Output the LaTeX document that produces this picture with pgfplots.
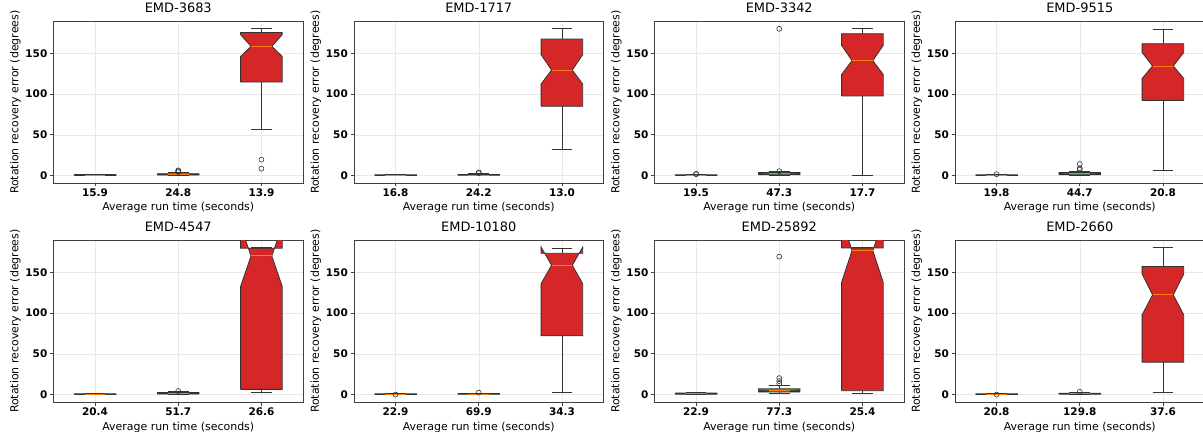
\documentclass[border=0pt]{standalone}
\usepackage{fontspec}
\setmainfont{DejaVu Sans}
\usepackage{pgfplots}
\pgfplotsset{compat=1.18}
\definecolor{tred}{HTML}{D62728}
\definecolor{tgreen}{HTML}{2CA02C}
\definecolor{tblue}{HTML}{1F77B4}
\definecolor{torange}{HTML}{FF7F0E}
\pgfplotsset{
  whisk/.style={black!80, line width=0.8pt, mark=none},
  boxs/.style={draw=black!80, line width=0.8pt, mark=none},
  med/.style={torange, line width=1pt, mark=none},
  fl/.style={only marks, mark=o, mark size=2.5bp, mark options={black!80, line width=0.6pt}},
  myax/.style={
    scale only axis, width=249.5bp, height=161.5bp,
    xmin=0.5, xmax=3.5, ymin=-9, ymax=189,
    xtick={1,2,3}, ytick={0,50,100,150},
    xtick pos=bottom, ytick pos=left,
    grid=major, grid style={line width=0.5pt, draw=black!9},
    axis line style={black!75, line width=0.8pt},
    tick align=outside, major tick length=3.5bp,
    tick style={black!75, line width=0.8pt},
    /pgf/number format/assume math mode=true,
    yticklabel style={font=\bfseries\fontsize{10.5}{12}\selectfont, inner sep=0pt, xshift=-2.5bp},
    xticklabel style={font=\bfseries\fontsize{10.5}{12}\selectfont, inner sep=0pt, yshift=-2.5bp},
    title style={font=\fontsize{13}{15}\selectfont, at={(axis description cs:0.5,1)}, anchor=south, inner sep=0pt, yshift=2.7bp},
    xlabel={Average run time (seconds)},
    ylabel={Rotation recovery error (degrees)},
    every axis x label/.style={at={(axis description cs:0.5,0)}, anchor=base, inner sep=0pt, yshift=-28bp, font=\fontsize{11}{13}\selectfont},
    every axis y label/.style={at={(axis description cs:-0.153,0.5)}, anchor=center, rotate=90, inner sep=0pt, font=\fontsize{11}{13}\selectfont},
    anchor=south west,
  }
}
% pos, lower whisker, q1, notch low, median, notch high, q3, upper whisker, colour
\newcommand{\nbox}[9]{%
  \pgfmathsetmacro\xa{#1-0.25}%
  \pgfmathsetmacro\xb{#1+0.25}%
  \pgfmathsetmacro\xc{#1-0.125}%
  \pgfmathsetmacro\xd{#1+0.125}%
  \edef\tmp{%
    \noexpand\addplot[boxs, fill=#9] coordinates {(\xa,#3) (\xb,#3) (\xb,#4) (\xd,#5) (\xb,#6) (\xb,#7) (\xa,#7) (\xa,#6) (\xc,#5) (\xa,#4) (\xa,#3)};
    \noexpand\addplot[whisk] coordinates {(#1,#3) (#1,#2)};
    \noexpand\addplot[whisk] coordinates {(#1,#7) (#1,#8)};
    \noexpand\addplot[whisk] coordinates {(\xc,#2) (\xd,#2)};
    \noexpand\addplot[whisk] coordinates {(\xc,#8) (\xd,#8)};
    \noexpand\addplot[med] coordinates {(\xc,#5) (\xd,#5)};
  }\tmp}
\begin{document}
\begin{tikzpicture}
\path[use as bounding box] (0,0) rectangle (1203bp,432bp);
% ---------- row 1 ----------
\begin{axis}[myax, at={(53.5bp,249bp)}, title={EMD-3683}, xticklabels={15.9,24.8,13.9}]
\nbox{1}{0}{0.3}{0.4}{0.7}{1.0}{1.3}{1.9}{tblue}
\nbox{2}{0}{0.8}{1.0}{1.5}{2.0}{2.4}{3.5}{tgreen}
\nbox{3}{57.2}{114.8}{146.2}{158.5}{172.8}{175.6}{180}{tred}
\addplot[fl] coordinates {(2,4.5) (2,5.5) (2,6.5) (3,8.6) (3,19.6)};
\end{axis}
\begin{axis}[myax, at={(354bp,249bp)}, title={EMD-1717}, xticklabels={16.8,24.2,13.0}]
\nbox{1}{0}{0.3}{0.4}{0.6}{0.8}{1.1}{1.6}{tblue}
\nbox{2}{0}{0.4}{0.5}{0.8}{1.1}{1.4}{2.2}{tgreen}
\nbox{3}{32.7}{85}{112.4}{129.5}{148.3}{167.5}{180}{tred}
\addplot[fl] coordinates {(2,3) (2,4)};
\end{axis}
\begin{axis}[myax, at={(654.5bp,249bp)}, title={EMD-3342}, xticklabels={19.5,47.3,17.7}]
\nbox{1}{0}{0.3}{0.4}{0.6}{0.8}{1.1}{1.6}{tblue}
\nbox{2}{0.2}{1.2}{1.7}{2.2}{2.7}{3.8}{4.8}{tgreen}
\nbox{3}{0.8}{97.7}{124.1}{141}{159.7}{174}{180}{tred}
\addplot[fl] coordinates {(1,1.8) (1,2.3) (2,5.5) (2,180)};
\end{axis}
\begin{axis}[myax, at={(955bp,249bp)}, title={EMD-9515}, xticklabels={19.8,44.7,20.8}]
\nbox{1}{0}{0.3}{0.4}{0.6}{0.8}{1.1}{1.6}{tblue}
\nbox{2}{0.1}{1.2}{1.7}{2.2}{2.7}{3.8}{5.5}{tgreen}
\nbox{3}{7}{92.3}{119.2}{134.4}{151}{161.8}{179}{tred}
\addplot[fl] coordinates {(1,1.8) (2,7.3) (2,9) (2,14.3)};
\end{axis}
% ---------- row 2 ----------
\begin{axis}[myax, at={(53.5bp,30bp)}, title={EMD-4547}, xticklabels={20.4,51.7,26.6}]
\nbox{1}{0}{0.2}{0.3}{0.5}{0.7}{1}{1.5}{tblue}
\nbox{2}{0}{0.8}{1}{1.4}{1.8}{2.5}{3.5}{tgreen}
\nbox{3}{2.4}{6.5}{132.9}{170}{207}{179.5}{180}{tred}
\addplot[fl] coordinates {(2,4.5)};
\end{axis}
\begin{axis}[myax, at={(354bp,30bp)}, title={EMD-10180}, xticklabels={22.9,69.9,34.3}]
\nbox{1}{0}{0.3}{0.4}{0.6}{0.8}{1.1}{1.6}{tblue}
\nbox{2}{0}{0.4}{0.5}{0.8}{1.1}{1.4}{2}{tgreen}
\nbox{3}{2.4}{72.2}{136.2}{158.6}{181}{173.3}{179.9}{tred}
\addplot[fl] coordinates {(1,0.1) (2,2.5)};
\end{axis}
\begin{axis}[myax, at={(654.5bp,30bp)}, title={EMD-25892}, xticklabels={22.9,77.3,25.4}]
\nbox{1}{0}{0.6}{0.8}{1.2}{1.6}{2}{2.6}{tblue}
\nbox{2}{1}{3.2}{3.7}{4.5}{5.3}{7.2}{11.4}{tgreen}
\nbox{3}{1.2}{4.9}{137.8}{176.6}{215}{179.9}{180}{tred}
\addplot[fl] coordinates {(2,13.4) (2,16.7) (2,20.3) (2,169.2)};
\end{axis}
\begin{axis}[myax, at={(955bp,30bp)}, title={EMD-2660}, xticklabels={20.8,129.8,37.6}]
\nbox{1}{0}{0.3}{0.4}{0.6}{0.8}{1.1}{1.6}{tblue}
\nbox{2}{0}{0.6}{0.8}{1.1}{1.4}{1.8}{2.6}{tgreen}
\nbox{3}{3.2}{39.9}{97.9}{122.3}{148}{157}{180}{tred}
\addplot[fl] coordinates {(1,0.1) (2,3.5)};
\end{axis}
\end{tikzpicture}
\end{document}
